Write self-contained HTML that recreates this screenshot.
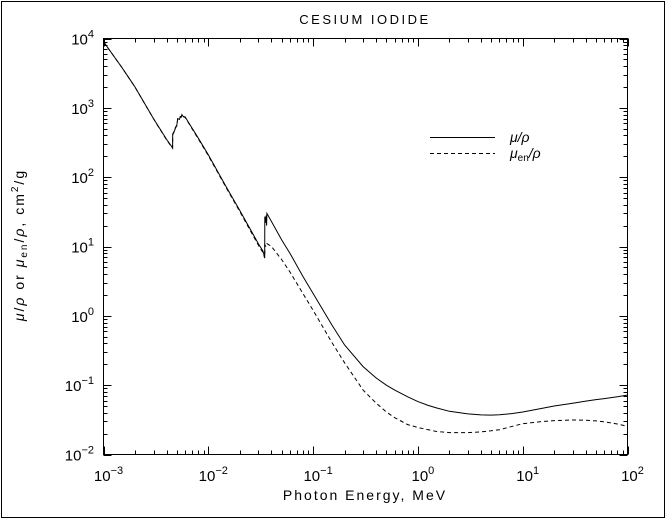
<!DOCTYPE html>
<html><head><style>body{margin:0;background:#fff}svg{display:block}text{font-family:"Liberation Sans",sans-serif;fill:#000}</style></head>
<body>
<svg id="s" width="666" height="520" xmlns="http://www.w3.org/2000/svg">
<rect x="1.5" y="1.5" width="663" height="516" fill="none" stroke="#000" stroke-width="1"/>
<text x="365" y="24" font-size="13" text-anchor="middle" letter-spacing="2.5">CESIUM IODIDE</text>
<rect x="103.5" y="38.5" width="524" height="416" fill="none" stroke="#000" stroke-width="1"/>
<g id="ticks" stroke="#000" stroke-width="1"></g>
<g id="labels" font-size="15"></g>
<text x="365" y="500" font-size="14" text-anchor="middle" letter-spacing="2">Photon Energy, MeV</text>
<text transform="translate(24,245) rotate(-90)" font-size="14" text-anchor="middle" letter-spacing="2"><tspan font-style="italic">μ</tspan>/<tspan font-style="italic">ρ</tspan> or <tspan font-style="italic">μ</tspan><tspan font-size="10" dy="3">en</tspan><tspan dy="-3">/</tspan><tspan font-style="italic">ρ</tspan>, cm<tspan font-size="10" dy="-6">2</tspan><tspan dy="6">/g</tspan></text>
<line x1="430" y1="137.5" x2="495" y2="137.5" stroke="#000"/>
<line x1="430" y1="153.5" x2="495" y2="153.5" stroke="#000" stroke-dasharray="4,3"/>
<text x="510" y="142" font-size="14" font-style="italic">μ/ρ</text>
<text x="510" y="158" font-size="14" font-style="italic">μ<tspan font-size="10" dy="3" font-style="normal">en</tspan><tspan dy="-3">/ρ</tspan></text>
<path id="mu" fill="none" stroke="#000" stroke-width="1"/>
<path id="muen" fill="none" stroke="#000" stroke-width="1" stroke-dasharray="4,3"/>
</svg>
<script>
const L=103.5,R=627.5,T=38.5,B=454.5;
const X=e=>L+(Math.log10(e)+3)*(R-L)/5, Y=v=>B-(Math.log10(v)+2)*(B-T)/6;
const ns="http://www.w3.org/2000/svg";
const tk=document.getElementById('ticks'), lb=document.getElementById('labels');
function ln(x1,y1,x2,y2){const l=document.createElementNS(ns,'line');l.setAttribute('x1',x1);l.setAttribute('y1',y1);l.setAttribute('x2',x2);l.setAttribute('y2',y2);tk.appendChild(l);}
function lab(x,y,exp,anchor){const t=document.createElementNS(ns,'text');t.setAttribute('x',x);t.setAttribute('y',y);t.setAttribute('text-anchor',anchor);t.innerHTML='10<tspan font-size="11" dy="-7">'+exp.replace('-','−')+'</tspan>';lb.appendChild(t);}
for(let d=-3;d<=2;d++){for(let m=1;m<10;m++){if(d==2&&m>1)break;const x=Math.round(X(m*Math.pow(10,d)))+0.5;const len=m==1?8:4;ln(x,B,x,B-len);ln(x,T,x,T+len);}
 lab(X(Math.pow(10,d))+5,481,String(d),'middle');}
for(let d=-2;d<=4;d++){for(let m=1;m<10;m++){if(d==4&&m>1)break;const y=Math.round(Y(m*Math.pow(10,d)))+0.5;const len=m==1?8:4;ln(L,y,L+len,y);ln(R,y,R-len,y);}
 lab(94,Y(Math.pow(10,d))+6,String(d),'end');}
const mu=[[0.001,9000],[0.0015,3800],[0.002,2000],[0.003,700],[0.004,350],[0.00456,265],[0.00457,420],[0.0048,480],[0.00485,520],[0.005,560],[0.0051,700],[0.0053,680],[0.0054,750],[0.0055,740],[0.0056,800],[0.0057,760],[0.006,740],[0.008,370],[0.01,210],[0.015,70],[0.02,33],[0.03,11],[0.0332,8.6],[0.0345,7.0],[0.0346,27],[0.0352,22],[0.0356,28],[0.036,20],[0.0362,30],[0.04,23],[0.05,12.5],[0.06,8.0],[0.08,3.7],[0.1,2.1],[0.15,0.75],[0.2,0.38],[0.3,0.185],[0.4,0.127],[0.5,0.100],[0.6,0.085],[0.8,0.068],[1,0.058],[1.25,0.051],[1.5,0.047],[2,0.042],[3,0.0385],[4,0.0372],[5,0.037],[6,0.0374],[8,0.039],[10,0.041],[15,0.046],[20,0.050],[30,0.055],[40,0.059],[50,0.062],[60,0.064],[80,0.068],[100,0.072]];
const muen=[[0.001,8990],[0.0015,3790],[0.002,1990],[0.003,695],[0.004,345],[0.00456,262],[0.00457,410],[0.0048,470],[0.00485,510],[0.005,550],[0.0051,690],[0.0053,670],[0.0054,740],[0.0055,730],[0.0056,790],[0.0057,750],[0.006,730],[0.008,360],[0.01,205],[0.015,68],[0.02,32],[0.03,10.5],[0.0332,8.2],[0.0345,6.8],[0.0346,10.5],[0.0356,10],[0.0362,11],[0.04,10],[0.05,6.5],[0.06,4.3],[0.08,2.1],[0.1,1.2],[0.15,0.42],[0.2,0.21],[0.3,0.085],[0.4,0.055],[0.5,0.041],[0.6,0.034],[0.8,0.027],[1,0.0245],[1.5,0.0215],[2,0.0207],[3,0.0207],[4,0.0212],[5,0.022],[6,0.0228],[8,0.0255],[10,0.0278],[15,0.0298],[20,0.0308],[30,0.0315],[40,0.0312],[50,0.0305],[60,0.0296],[80,0.0275],[100,0.0255]];
const p=a=>a.map((q,i)=>(i?'L':'M')+X(q[0]).toFixed(1)+','+Y(q[1]).toFixed(1)).join('');
document.getElementById('mu').setAttribute('d',p(mu));
document.getElementById('muen').setAttribute('d',p(muen));
</script>
</body></html>
